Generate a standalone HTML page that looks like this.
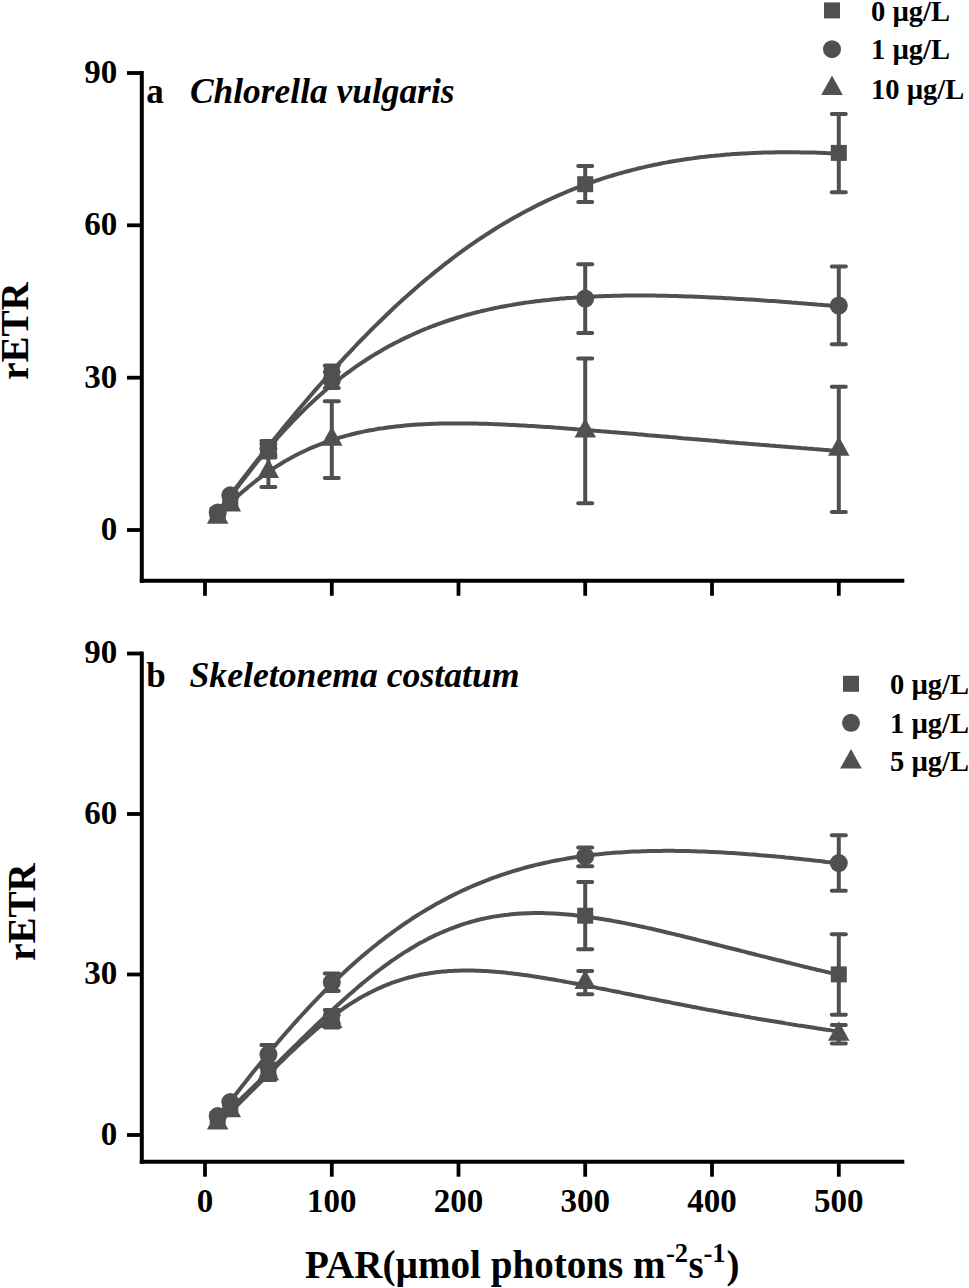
<!DOCTYPE html>
<html><head><meta charset="utf-8"><style>
html,body{margin:0;padding:0;background:#fff;}
body{width:969px;height:1288px;overflow:hidden;font-family:"Liberation Serif", serif;}
svg{display:block;}
</style></head><body>
<svg width="969" height="1288" viewBox="0 0 969 1288">
<rect width="969" height="1288" fill="#fff"/>
<g stroke="#000" fill="none" stroke-linecap="butt">
<line x1="141.8" y1="71.0" x2="141.8" y2="582.8" stroke-width="4.0"/>
<line x1="139.8" y1="580.8" x2="904.3" y2="580.8" stroke-width="4.0"/>
<line x1="127" y1="530.0" x2="141.8" y2="530.0" stroke-width="3.8"/>
<line x1="127" y1="377.7" x2="141.8" y2="377.7" stroke-width="3.8"/>
<line x1="127" y1="225.3" x2="141.8" y2="225.3" stroke-width="3.8"/>
<line x1="127" y1="73.0" x2="141.8" y2="73.0" stroke-width="3.8"/>
<line x1="205.0" y1="580.8" x2="205.0" y2="595.8" stroke-width="3.8"/>
<line x1="331.8" y1="580.8" x2="331.8" y2="595.8" stroke-width="3.8"/>
<line x1="458.5" y1="580.8" x2="458.5" y2="595.8" stroke-width="3.8"/>
<line x1="585.2" y1="580.8" x2="585.2" y2="595.8" stroke-width="3.8"/>
<line x1="712.0" y1="580.8" x2="712.0" y2="595.8" stroke-width="3.8"/>
<line x1="838.8" y1="580.8" x2="838.8" y2="595.8" stroke-width="3.8"/>
</g>
<text x="117.2" y="539.8" font-family="Liberation Serif" font-weight="bold" font-size="33" text-anchor="end">0</text>
<text x="117.2" y="387.5" font-family="Liberation Serif" font-weight="bold" font-size="33" text-anchor="end">30</text>
<text x="117.2" y="235.1" font-family="Liberation Serif" font-weight="bold" font-size="33" text-anchor="end">60</text>
<text x="117.2" y="82.8" font-family="Liberation Serif" font-weight="bold" font-size="33" text-anchor="end">90</text>
<g stroke="#505050" fill="none" stroke-width="4.0" stroke-linejoin="round">
<path d="M217.7,512.1 L220.8,507.9 L223.9,503.7 L227.0,499.5 L230.2,495.4 L233.3,491.3 L236.4,487.2 L239.5,483.1 L242.6,479.1 L245.8,475.0 L248.9,471.0 L252.0,467.0 L255.1,463.1 L258.2,459.1 L261.4,455.2 L264.5,451.2 L267.6,447.3 L270.7,443.5 L273.9,439.6 L277.0,435.7 L280.1,431.9 L283.2,428.1 L286.3,424.3 L289.5,420.5 L292.6,416.8 L295.7,413.1 L298.8,409.4 L301.9,405.7 L305.1,402.0 L308.2,398.4 L311.3,394.7 L314.4,391.1 L317.5,387.6 L320.7,384.0 L323.8,380.5 L326.9,377.0 L330.0,373.5 L333.2,370.0 L336.3,366.6 L339.4,363.2 L342.5,359.8 L345.6,356.4 L348.8,353.1 L351.9,349.8 L355.0,346.5 L358.1,343.2 L361.2,340.0 L364.4,336.8 L367.5,333.6 L370.6,330.5 L373.7,327.4 L376.8,324.3 L380.0,321.2 L383.1,318.2 L386.2,315.2 L389.3,312.2 L392.4,309.3 L395.6,306.3 L398.7,303.4 L401.8,300.6 L404.9,297.7 L408.1,294.9 L411.2,292.2 L414.3,289.4 L417.4,286.7 L420.5,284.0 L423.7,281.4 L426.8,278.8 L429.9,276.2 L433.0,273.6 L436.1,271.1 L439.3,268.6 L442.4,266.1 L445.5,263.7 L448.6,261.3 L451.7,258.9 L454.9,256.5 L458.0,254.2 L461.1,251.9 L464.2,249.7 L467.4,247.4 L470.5,245.2 L473.6,243.1 L476.7,240.9 L479.8,238.8 L483.0,236.8 L486.1,234.7 L489.2,232.7 L492.3,230.7 L495.4,228.7 L498.6,226.8 L501.7,224.9 L504.8,223.1 L507.9,221.2 L511.0,219.4 L514.2,217.6 L517.3,215.9 L520.4,214.2 L523.5,212.5 L526.7,210.8 L529.8,209.2 L532.9,207.6 L536.0,206.0 L539.1,204.4 L542.3,202.9 L545.4,201.4 L548.5,199.9 L551.6,198.5 L554.7,197.1 L557.9,195.7 L561.0,194.3 L564.1,193.0 L567.2,191.7 L570.3,190.4 L573.5,189.1 L576.6,187.9 L579.7,186.7 L582.8,185.5 L586.0,184.4 L589.1,183.2 L592.2,182.1 L595.3,181.0 L598.4,180.0 L601.6,178.9 L604.7,177.9 L607.8,176.9 L610.9,176.0 L614.0,175.0 L617.2,174.1 L620.3,173.2 L623.4,172.4 L626.5,171.5 L629.6,170.7 L632.8,169.9 L635.9,169.1 L639.0,168.3 L642.1,167.6 L645.2,166.9 L648.4,166.1 L651.5,165.5 L654.6,164.8 L657.7,164.2 L660.9,163.5 L664.0,162.9 L667.1,162.4 L670.2,161.8 L673.3,161.2 L676.5,160.7 L679.6,160.2 L682.7,159.7 L685.8,159.2 L688.9,158.8 L692.1,158.4 L695.2,157.9 L698.3,157.5 L701.4,157.1 L704.5,156.8 L707.7,156.4 L710.8,156.1 L713.9,155.8 L717.0,155.4 L720.2,155.2 L723.3,154.9 L726.4,154.6 L729.5,154.4 L732.6,154.1 L735.8,153.9 L738.9,153.7 L742.0,153.5 L745.1,153.4 L748.2,153.2 L751.4,153.1 L754.5,152.9 L757.6,152.8 L760.7,152.7 L763.8,152.6 L767.0,152.5 L770.1,152.4 L773.2,152.4 L776.3,152.3 L779.5,152.3 L782.6,152.3 L785.7,152.3 L788.8,152.3 L791.9,152.3 L795.1,152.3 L798.2,152.3 L801.3,152.4 L804.4,152.4 L807.5,152.5 L810.7,152.6 L813.8,152.6 L816.9,152.7 L820.0,152.8 L823.1,152.9 L826.3,153.1 L829.4,153.2 L832.5,153.3 L835.6,153.5 L838.8,153.6"/>
<path d="M217.7,514.0 L220.8,509.8 L223.9,505.5 L227.0,501.3 L230.2,497.1 L233.3,492.9 L236.4,488.7 L239.5,484.6 L242.6,480.5 L245.8,476.4 L248.9,472.4 L252.0,468.4 L255.1,464.5 L258.2,460.6 L261.4,456.8 L264.5,453.0 L267.6,449.3 L270.7,445.6 L273.9,442.0 L277.0,438.5 L280.1,435.0 L283.2,431.5 L286.3,428.1 L289.5,424.8 L292.6,421.5 L295.7,418.3 L298.8,415.1 L301.9,412.0 L305.1,408.9 L308.2,405.9 L311.3,403.0 L314.4,400.1 L317.5,397.3 L320.7,394.5 L323.8,391.8 L326.9,389.1 L330.0,386.5 L333.2,383.9 L336.3,381.4 L339.4,378.9 L342.5,376.5 L345.6,374.2 L348.8,371.9 L351.9,369.6 L355.0,367.4 L358.1,365.2 L361.2,363.1 L364.4,361.0 L367.5,359.0 L370.6,357.0 L373.7,355.1 L376.8,353.2 L380.0,351.4 L383.1,349.6 L386.2,347.8 L389.3,346.1 L392.4,344.4 L395.6,342.8 L398.7,341.2 L401.8,339.6 L404.9,338.1 L408.1,336.6 L411.2,335.2 L414.3,333.8 L417.4,332.4 L420.5,331.0 L423.7,329.7 L426.8,328.5 L429.9,327.2 L433.0,326.0 L436.1,324.9 L439.3,323.7 L442.4,322.6 L445.5,321.5 L448.6,320.5 L451.7,319.5 L454.9,318.5 L458.0,317.5 L461.1,316.6 L464.2,315.7 L467.4,314.8 L470.5,314.0 L473.6,313.1 L476.7,312.3 L479.8,311.6 L483.0,310.8 L486.1,310.1 L489.2,309.4 L492.3,308.7 L495.4,308.0 L498.6,307.4 L501.7,306.8 L504.8,306.2 L507.9,305.6 L511.0,305.1 L514.2,304.5 L517.3,304.0 L520.4,303.5 L523.5,303.0 L526.7,302.6 L529.8,302.1 L532.9,301.7 L536.0,301.3 L539.1,300.9 L542.3,300.6 L545.4,300.2 L548.5,299.9 L551.6,299.5 L554.7,299.2 L557.9,298.9 L561.0,298.6 L564.1,298.4 L567.2,298.1 L570.3,297.9 L573.5,297.7 L576.6,297.4 L579.7,297.2 L582.8,297.1 L586.0,296.9 L589.1,296.7 L592.2,296.6 L595.3,296.4 L598.4,296.3 L601.6,296.2 L604.7,296.1 L607.8,296.0 L610.9,295.9 L614.0,295.8 L617.2,295.7 L620.3,295.7 L623.4,295.6 L626.5,295.6 L629.6,295.6 L632.8,295.6 L635.9,295.5 L639.0,295.5 L642.1,295.5 L645.2,295.6 L648.4,295.6 L651.5,295.6 L654.6,295.6 L657.7,295.7 L660.9,295.7 L664.0,295.8 L667.1,295.8 L670.2,295.9 L673.3,296.0 L676.5,296.1 L679.6,296.2 L682.7,296.3 L685.8,296.4 L688.9,296.5 L692.1,296.6 L695.2,296.7 L698.3,296.8 L701.4,296.9 L704.5,297.1 L707.7,297.2 L710.8,297.4 L713.9,297.5 L717.0,297.7 L720.2,297.8 L723.3,298.0 L726.4,298.2 L729.5,298.3 L732.6,298.5 L735.8,298.7 L738.9,298.9 L742.0,299.0 L745.1,299.2 L748.2,299.4 L751.4,299.6 L754.5,299.8 L757.6,300.0 L760.7,300.2 L763.8,300.4 L767.0,300.7 L770.1,300.9 L773.2,301.1 L776.3,301.3 L779.5,301.5 L782.6,301.8 L785.7,302.0 L788.8,302.2 L791.9,302.5 L795.1,302.7 L798.2,303.0 L801.3,303.2 L804.4,303.4 L807.5,303.7 L810.7,303.9 L813.8,304.2 L816.9,304.5 L820.0,304.7 L823.1,305.0 L826.3,305.2 L829.4,305.5 L832.5,305.7 L835.6,306.0 L838.8,306.3"/>
<path d="M217.7,515.7 L220.8,512.5 L223.9,509.3 L227.0,506.2 L230.2,503.2 L233.3,500.2 L236.4,497.3 L239.5,494.5 L242.6,491.8 L245.8,489.1 L248.9,486.5 L252.0,484.0 L255.1,481.5 L258.2,479.1 L261.4,476.8 L264.5,474.5 L267.6,472.3 L270.7,470.2 L273.9,468.1 L277.0,466.1 L280.1,464.2 L283.2,462.3 L286.3,460.4 L289.5,458.7 L292.6,457.0 L295.7,455.3 L298.8,453.7 L301.9,452.2 L305.1,450.7 L308.2,449.3 L311.3,447.9 L314.4,446.6 L317.5,445.3 L320.7,444.1 L323.8,442.9 L326.9,441.8 L330.0,440.7 L333.2,439.7 L336.3,438.7 L339.4,437.7 L342.5,436.8 L345.6,435.9 L348.8,435.1 L351.9,434.3 L355.0,433.5 L358.1,432.8 L361.2,432.1 L364.4,431.4 L367.5,430.8 L370.6,430.2 L373.7,429.7 L376.8,429.1 L380.0,428.6 L383.1,428.2 L386.2,427.7 L389.3,427.3 L392.4,426.9 L395.6,426.5 L398.7,426.2 L401.8,425.9 L404.9,425.6 L408.1,425.3 L411.2,425.0 L414.3,424.8 L417.4,424.6 L420.5,424.4 L423.7,424.2 L426.8,424.1 L429.9,423.9 L433.0,423.8 L436.1,423.7 L439.3,423.6 L442.4,423.5 L445.5,423.5 L448.6,423.4 L451.7,423.4 L454.9,423.4 L458.0,423.4 L461.1,423.4 L464.2,423.4 L467.4,423.4 L470.5,423.5 L473.6,423.5 L476.7,423.6 L479.8,423.7 L483.0,423.8 L486.1,423.8 L489.2,423.9 L492.3,424.1 L495.4,424.2 L498.6,424.3 L501.7,424.4 L504.8,424.6 L507.9,424.7 L511.0,424.9 L514.2,425.0 L517.3,425.2 L520.4,425.4 L523.5,425.5 L526.7,425.7 L529.8,425.9 L532.9,426.1 L536.0,426.3 L539.1,426.5 L542.3,426.7 L545.4,426.9 L548.5,427.1 L551.6,427.3 L554.7,427.6 L557.9,427.8 L561.0,428.0 L564.1,428.2 L567.2,428.5 L570.3,428.7 L573.5,428.9 L576.6,429.2 L579.7,429.4 L582.8,429.7 L586.0,429.9 L589.1,430.2 L592.2,430.4 L595.3,430.7 L598.4,430.9 L601.6,431.2 L604.7,431.4 L607.8,431.7 L610.9,432.0 L614.0,432.2 L617.2,432.5 L620.3,432.8 L623.4,433.0 L626.5,433.3 L629.6,433.6 L632.8,433.8 L635.9,434.1 L639.0,434.4 L642.1,434.6 L645.2,434.9 L648.4,435.2 L651.5,435.4 L654.6,435.7 L657.7,436.0 L660.9,436.3 L664.0,436.5 L667.1,436.8 L670.2,437.1 L673.3,437.3 L676.5,437.6 L679.6,437.9 L682.7,438.2 L685.8,438.4 L688.9,438.7 L692.1,439.0 L695.2,439.2 L698.3,439.5 L701.4,439.8 L704.5,440.0 L707.7,440.3 L710.8,440.6 L713.9,440.8 L717.0,441.1 L720.2,441.4 L723.3,441.6 L726.4,441.9 L729.5,442.2 L732.6,442.4 L735.8,442.7 L738.9,443.0 L742.0,443.2 L745.1,443.5 L748.2,443.8 L751.4,444.0 L754.5,444.3 L757.6,444.5 L760.7,444.8 L763.8,445.0 L767.0,445.3 L770.1,445.6 L773.2,445.8 L776.3,446.1 L779.5,446.3 L782.6,446.6 L785.7,446.8 L788.8,447.1 L791.9,447.3 L795.1,447.6 L798.2,447.8 L801.3,448.1 L804.4,448.3 L807.5,448.6 L810.7,448.8 L813.8,449.1 L816.9,449.3 L820.0,449.5 L823.1,449.8 L826.3,450.0 L829.4,450.3 L832.5,450.5 L835.6,450.7 L838.8,451.0"/>
</g>
<g stroke="#505050" stroke-width="4.0" stroke-linecap="round">
<line x1="268.4" y1="444.0" x2="268.4" y2="454.0" stroke-linecap="butt"/><line x1="261.4" y1="444.0" x2="275.4" y2="444.0"/><line x1="261.4" y1="454.0" x2="275.4" y2="454.0"/>
<line x1="268.4" y1="441.0" x2="268.4" y2="456.0" stroke-linecap="butt"/><line x1="261.4" y1="441.0" x2="275.4" y2="441.0"/><line x1="261.4" y1="456.0" x2="275.4" y2="456.0"/>
<line x1="268.4" y1="457.5" x2="268.4" y2="487.0" stroke-linecap="butt"/><line x1="261.4" y1="457.5" x2="275.4" y2="457.5"/><line x1="261.4" y1="487.0" x2="275.4" y2="487.0"/>
<line x1="331.8" y1="365.6" x2="331.8" y2="380.0" stroke-linecap="butt"/><line x1="324.8" y1="365.6" x2="338.8" y2="365.6"/><line x1="324.8" y1="380.0" x2="338.8" y2="380.0"/>
<line x1="331.8" y1="372.0" x2="331.8" y2="388.0" stroke-linecap="butt"/><line x1="324.8" y1="372.0" x2="338.8" y2="372.0"/><line x1="324.8" y1="388.0" x2="338.8" y2="388.0"/>
<line x1="331.8" y1="401.2" x2="331.8" y2="478.0" stroke-linecap="butt"/><line x1="324.8" y1="401.2" x2="338.8" y2="401.2"/><line x1="324.8" y1="478.0" x2="338.8" y2="478.0"/>
<line x1="585.2" y1="166.0" x2="585.2" y2="202.1" stroke-linecap="butt"/><line x1="578.2" y1="166.0" x2="592.2" y2="166.0"/><line x1="578.2" y1="202.1" x2="592.2" y2="202.1"/>
<line x1="585.2" y1="264.3" x2="585.2" y2="333.1" stroke-linecap="butt"/><line x1="578.2" y1="264.3" x2="592.2" y2="264.3"/><line x1="578.2" y1="333.1" x2="592.2" y2="333.1"/>
<line x1="585.2" y1="358.4" x2="585.2" y2="503.3" stroke-linecap="butt"/><line x1="578.2" y1="358.4" x2="592.2" y2="358.4"/><line x1="578.2" y1="503.3" x2="592.2" y2="503.3"/>
<line x1="838.8" y1="114.0" x2="838.8" y2="192.3" stroke-linecap="butt"/><line x1="831.8" y1="114.0" x2="845.8" y2="114.0"/><line x1="831.8" y1="192.3" x2="845.8" y2="192.3"/>
<line x1="838.8" y1="266.6" x2="838.8" y2="344.2" stroke-linecap="butt"/><line x1="831.8" y1="266.6" x2="845.8" y2="266.6"/><line x1="831.8" y1="344.2" x2="845.8" y2="344.2"/>
<line x1="838.8" y1="386.8" x2="838.8" y2="512.1" stroke-linecap="butt"/><line x1="831.8" y1="386.8" x2="845.8" y2="386.8"/><line x1="831.8" y1="512.1" x2="845.8" y2="512.1"/>
</g>
<g fill="#505050">
<rect x="209.7" y="507.0" width="16.0" height="16.0"/>
<circle cx="217.7" cy="512.5" r="9"/>
<polygon points="217.7,504.3 228.4,523.8 206.9,523.8"/>
<rect x="222.3" y="492.0" width="16.0" height="16.0"/>
<circle cx="230.3" cy="495.3" r="9"/>
<polygon points="230.3,491.9 241.1,511.4 219.6,511.4"/>
<rect x="260.4" y="441.0" width="16.0" height="16.0"/>
<circle cx="268.4" cy="448.5" r="9"/>
<polygon points="268.4,458.5 279.1,478.0 257.6,478.0"/>
<rect x="323.8" y="365.0" width="16.0" height="16.0"/>
<circle cx="331.8" cy="380.3" r="9"/>
<polygon points="331.8,426.3 342.5,445.8 321.0,445.8"/>
<rect x="577.2" y="176.2" width="16.0" height="16.0"/>
<circle cx="585.2" cy="298.6" r="9"/>
<polygon points="585.2,417.9 596.0,437.4 574.5,437.4"/>
<rect x="830.8" y="144.9" width="16.0" height="16.0"/>
<circle cx="838.8" cy="305.6" r="9"/>
<polygon points="838.8,436.3 849.5,455.8 828.0,455.8"/>
</g>
<g stroke="#000" fill="none" stroke-linecap="butt">
<line x1="141.8" y1="651.5" x2="141.8" y2="1163.7" stroke-width="4.0"/>
<line x1="139.8" y1="1161.7" x2="904.3" y2="1161.7" stroke-width="4.0"/>
<line x1="127" y1="1135.0" x2="141.8" y2="1135.0" stroke-width="3.8"/>
<line x1="127" y1="974.5" x2="141.8" y2="974.5" stroke-width="3.8"/>
<line x1="127" y1="814.0" x2="141.8" y2="814.0" stroke-width="3.8"/>
<line x1="127" y1="653.5" x2="141.8" y2="653.5" stroke-width="3.8"/>
<line x1="205.0" y1="1161.7" x2="205.0" y2="1176.7" stroke-width="3.8"/>
<line x1="331.8" y1="1161.7" x2="331.8" y2="1176.7" stroke-width="3.8"/>
<line x1="458.5" y1="1161.7" x2="458.5" y2="1176.7" stroke-width="3.8"/>
<line x1="585.2" y1="1161.7" x2="585.2" y2="1176.7" stroke-width="3.8"/>
<line x1="712.0" y1="1161.7" x2="712.0" y2="1176.7" stroke-width="3.8"/>
<line x1="838.8" y1="1161.7" x2="838.8" y2="1176.7" stroke-width="3.8"/>
</g>
<text x="117.2" y="1144.8" font-family="Liberation Serif" font-weight="bold" font-size="33" text-anchor="end">0</text>
<text x="117.2" y="984.3" font-family="Liberation Serif" font-weight="bold" font-size="33" text-anchor="end">30</text>
<text x="117.2" y="823.8" font-family="Liberation Serif" font-weight="bold" font-size="33" text-anchor="end">60</text>
<text x="117.2" y="663.3" font-family="Liberation Serif" font-weight="bold" font-size="33" text-anchor="end">90</text>
<g stroke="#505050" fill="none" stroke-width="4.0" stroke-linejoin="round">
<path d="M217.7,1117.9 L220.8,1113.8 L223.9,1109.7 L227.0,1105.6 L230.2,1101.5 L233.3,1097.4 L236.4,1093.4 L239.5,1089.4 L242.6,1085.4 L245.8,1081.5 L248.9,1077.5 L252.0,1073.6 L255.1,1069.7 L258.2,1065.9 L261.4,1062.0 L264.5,1058.2 L267.6,1054.4 L270.7,1050.7 L273.9,1047.0 L277.0,1043.3 L280.1,1039.6 L283.2,1036.0 L286.3,1032.4 L289.5,1028.9 L292.6,1025.3 L295.7,1021.8 L298.8,1018.4 L301.9,1015.0 L305.1,1011.6 L308.2,1008.2 L311.3,1004.9 L314.4,1001.6 L317.5,998.4 L320.7,995.2 L323.8,992.0 L326.9,988.9 L330.0,985.8 L333.2,982.8 L336.3,979.8 L339.4,976.8 L342.5,973.9 L345.6,971.0 L348.8,968.1 L351.9,965.3 L355.0,962.5 L358.1,959.8 L361.2,957.1 L364.4,954.4 L367.5,951.8 L370.6,949.2 L373.7,946.7 L376.8,944.2 L380.0,941.7 L383.1,939.3 L386.2,936.9 L389.3,934.6 L392.4,932.3 L395.6,930.0 L398.7,927.8 L401.8,925.6 L404.9,923.5 L408.1,921.4 L411.2,919.3 L414.3,917.3 L417.4,915.3 L420.5,913.4 L423.7,911.4 L426.8,909.6 L429.9,907.7 L433.0,905.9 L436.1,904.1 L439.3,902.4 L442.4,900.7 L445.5,899.1 L448.6,897.4 L451.7,895.9 L454.9,894.3 L458.0,892.8 L461.1,891.3 L464.2,889.8 L467.4,888.4 L470.5,887.0 L473.6,885.7 L476.7,884.4 L479.8,883.1 L483.0,881.8 L486.1,880.6 L489.2,879.4 L492.3,878.2 L495.4,877.1 L498.6,876.0 L501.7,874.9 L504.8,873.9 L507.9,872.9 L511.0,871.9 L514.2,870.9 L517.3,870.0 L520.4,869.1 L523.5,868.2 L526.7,867.3 L529.8,866.5 L532.9,865.7 L536.0,864.9 L539.1,864.2 L542.3,863.5 L545.4,862.8 L548.5,862.1 L551.6,861.4 L554.7,860.8 L557.9,860.2 L561.0,859.6 L564.1,859.1 L567.2,858.5 L570.3,858.0 L573.5,857.5 L576.6,857.0 L579.7,856.6 L582.8,856.1 L586.0,855.7 L589.1,855.3 L592.2,854.9 L595.3,854.6 L598.4,854.3 L601.6,853.9 L604.7,853.6 L607.8,853.3 L610.9,853.1 L614.0,852.8 L617.2,852.6 L620.3,852.4 L623.4,852.2 L626.5,852.0 L629.6,851.8 L632.8,851.6 L635.9,851.5 L639.0,851.4 L642.1,851.3 L645.2,851.2 L648.4,851.1 L651.5,851.0 L654.6,850.9 L657.7,850.9 L660.9,850.9 L664.0,850.8 L667.1,850.8 L670.2,850.8 L673.3,850.8 L676.5,850.9 L679.6,850.9 L682.7,851.0 L685.8,851.0 L688.9,851.1 L692.1,851.2 L695.2,851.3 L698.3,851.4 L701.4,851.5 L704.5,851.6 L707.7,851.7 L710.8,851.9 L713.9,852.0 L717.0,852.2 L720.2,852.3 L723.3,852.5 L726.4,852.7 L729.5,852.9 L732.6,853.1 L735.8,853.3 L738.9,853.5 L742.0,853.7 L745.1,853.9 L748.2,854.2 L751.4,854.4 L754.5,854.6 L757.6,854.9 L760.7,855.2 L763.8,855.4 L767.0,855.7 L770.1,856.0 L773.2,856.3 L776.3,856.6 L779.5,856.8 L782.6,857.1 L785.7,857.5 L788.8,857.8 L791.9,858.1 L795.1,858.4 L798.2,858.7 L801.3,859.1 L804.4,859.4 L807.5,859.7 L810.7,860.1 L813.8,860.4 L816.9,860.8 L820.0,861.1 L823.1,861.5 L826.3,861.9 L829.4,862.2 L832.5,862.6 L835.6,863.0 L838.8,863.3"/>
<path d="M217.7,1121.5 L220.8,1118.5 L223.9,1115.5 L227.0,1112.4 L230.2,1109.4 L233.3,1106.4 L236.4,1103.4 L239.5,1100.3 L242.6,1097.3 L245.8,1094.3 L248.9,1091.2 L252.0,1088.2 L255.1,1085.1 L258.2,1082.1 L261.4,1079.0 L264.5,1076.0 L267.6,1072.9 L270.7,1069.8 L273.9,1066.7 L277.0,1063.6 L280.1,1060.6 L283.2,1057.5 L286.3,1054.4 L289.5,1051.3 L292.6,1048.2 L295.7,1045.2 L298.8,1042.1 L301.9,1039.0 L305.1,1036.0 L308.2,1032.9 L311.3,1029.9 L314.4,1026.9 L317.5,1023.9 L320.7,1020.9 L323.8,1018.0 L326.9,1015.0 L330.0,1012.1 L333.2,1009.2 L336.3,1006.3 L339.4,1003.5 L342.5,1000.7 L345.6,997.9 L348.8,995.1 L351.9,992.4 L355.0,989.7 L358.1,987.0 L361.2,984.4 L364.4,981.8 L367.5,979.3 L370.6,976.8 L373.7,974.3 L376.8,971.9 L380.0,969.5 L383.1,967.2 L386.2,964.9 L389.3,962.6 L392.4,960.4 L395.6,958.3 L398.7,956.2 L401.8,954.1 L404.9,952.1 L408.1,950.2 L411.2,948.2 L414.3,946.4 L417.4,944.6 L420.5,942.8 L423.7,941.2 L426.8,939.5 L429.9,937.9 L433.0,936.4 L436.1,934.9 L439.3,933.5 L442.4,932.1 L445.5,930.8 L448.6,929.5 L451.7,928.3 L454.9,927.1 L458.0,926.0 L461.1,924.9 L464.2,923.9 L467.4,922.9 L470.5,922.0 L473.6,921.1 L476.7,920.3 L479.8,919.5 L483.0,918.8 L486.1,918.1 L489.2,917.5 L492.3,916.9 L495.4,916.4 L498.6,915.9 L501.7,915.4 L504.8,915.0 L507.9,914.7 L511.0,914.3 L514.2,914.0 L517.3,913.8 L520.4,913.6 L523.5,913.4 L526.7,913.3 L529.8,913.2 L532.9,913.1 L536.0,913.1 L539.1,913.1 L542.3,913.1 L545.4,913.2 L548.5,913.3 L551.6,913.4 L554.7,913.6 L557.9,913.8 L561.0,914.0 L564.1,914.2 L567.2,914.5 L570.3,914.8 L573.5,915.1 L576.6,915.5 L579.7,915.8 L582.8,916.2 L586.0,916.6 L589.1,917.0 L592.2,917.5 L595.3,918.0 L598.4,918.4 L601.6,918.9 L604.7,919.5 L607.8,920.0 L610.9,920.5 L614.0,921.1 L617.2,921.7 L620.3,922.3 L623.4,922.9 L626.5,923.5 L629.6,924.1 L632.8,924.8 L635.9,925.4 L639.0,926.1 L642.1,926.8 L645.2,927.4 L648.4,928.1 L651.5,928.8 L654.6,929.5 L657.7,930.3 L660.9,931.0 L664.0,931.7 L667.1,932.5 L670.2,933.2 L673.3,933.9 L676.5,934.7 L679.6,935.4 L682.7,936.2 L685.8,937.0 L688.9,937.7 L692.1,938.5 L695.2,939.3 L698.3,940.1 L701.4,940.9 L704.5,941.6 L707.7,942.4 L710.8,943.2 L713.9,944.0 L717.0,944.8 L720.2,945.6 L723.3,946.4 L726.4,947.2 L729.5,948.0 L732.6,948.7 L735.8,949.5 L738.9,950.3 L742.0,951.1 L745.1,951.9 L748.2,952.7 L751.4,953.5 L754.5,954.3 L757.6,955.1 L760.7,955.9 L763.8,956.6 L767.0,957.4 L770.1,958.2 L773.2,959.0 L776.3,959.8 L779.5,960.5 L782.6,961.3 L785.7,962.1 L788.8,962.8 L791.9,963.6 L795.1,964.4 L798.2,965.1 L801.3,965.9 L804.4,966.7 L807.5,967.4 L810.7,968.2 L813.8,968.9 L816.9,969.7 L820.0,970.4 L823.1,971.1 L826.3,971.9 L829.4,972.6 L832.5,973.3 L835.6,974.1 L838.8,974.8"/>
<path d="M217.7,1123.8 L220.8,1120.9 L223.9,1118.0 L227.0,1115.0 L230.2,1112.1 L233.3,1109.1 L236.4,1106.0 L239.5,1103.0 L242.6,1099.9 L245.8,1096.8 L248.9,1093.7 L252.0,1090.6 L255.1,1087.5 L258.2,1084.4 L261.4,1081.3 L264.5,1078.2 L267.6,1075.0 L270.7,1071.9 L273.9,1068.8 L277.0,1065.8 L280.1,1062.7 L283.2,1059.7 L286.3,1056.6 L289.5,1053.6 L292.6,1050.7 L295.7,1047.7 L298.8,1044.8 L301.9,1042.0 L305.1,1039.2 L308.2,1036.4 L311.3,1033.6 L314.4,1031.0 L317.5,1028.3 L320.7,1025.7 L323.8,1023.2 L326.9,1020.7 L330.0,1018.3 L333.2,1015.9 L336.3,1013.6 L339.4,1011.3 L342.5,1009.1 L345.6,1007.0 L348.8,1004.9 L351.9,1002.9 L355.0,1001.0 L358.1,999.1 L361.2,997.3 L364.4,995.6 L367.5,993.9 L370.6,992.3 L373.7,990.7 L376.8,989.2 L380.0,987.8 L383.1,986.4 L386.2,985.2 L389.3,983.9 L392.4,982.7 L395.6,981.6 L398.7,980.6 L401.8,979.6 L404.9,978.7 L408.1,977.8 L411.2,977.0 L414.3,976.2 L417.4,975.5 L420.5,974.8 L423.7,974.2 L426.8,973.7 L429.9,973.2 L433.0,972.7 L436.1,972.3 L439.3,971.9 L442.4,971.6 L445.5,971.4 L448.6,971.1 L451.7,970.9 L454.9,970.8 L458.0,970.7 L461.1,970.6 L464.2,970.5 L467.4,970.5 L470.5,970.5 L473.6,970.6 L476.7,970.7 L479.8,970.8 L483.0,970.9 L486.1,971.1 L489.2,971.3 L492.3,971.5 L495.4,971.8 L498.6,972.0 L501.7,972.3 L504.8,972.6 L507.9,973.0 L511.0,973.3 L514.2,973.7 L517.3,974.1 L520.4,974.5 L523.5,974.9 L526.7,975.3 L529.8,975.8 L532.9,976.3 L536.0,976.7 L539.1,977.2 L542.3,977.7 L545.4,978.2 L548.5,978.8 L551.6,979.3 L554.7,979.8 L557.9,980.4 L561.0,980.9 L564.1,981.5 L567.2,982.1 L570.3,982.6 L573.5,983.2 L576.6,983.8 L579.7,984.4 L582.8,985.0 L586.0,985.6 L589.1,986.2 L592.2,986.8 L595.3,987.4 L598.4,988.1 L601.6,988.7 L604.7,989.3 L607.8,989.9 L610.9,990.6 L614.0,991.2 L617.2,991.8 L620.3,992.4 L623.4,993.1 L626.5,993.7 L629.6,994.3 L632.8,995.0 L635.9,995.6 L639.0,996.2 L642.1,996.8 L645.2,997.5 L648.4,998.1 L651.5,998.7 L654.6,999.3 L657.7,1000.0 L660.9,1000.6 L664.0,1001.2 L667.1,1001.8 L670.2,1002.4 L673.3,1003.1 L676.5,1003.7 L679.6,1004.3 L682.7,1004.9 L685.8,1005.5 L688.9,1006.1 L692.1,1006.7 L695.2,1007.3 L698.3,1007.9 L701.4,1008.5 L704.5,1009.1 L707.7,1009.7 L710.8,1010.2 L713.9,1010.8 L717.0,1011.4 L720.2,1012.0 L723.3,1012.6 L726.4,1013.1 L729.5,1013.7 L732.6,1014.3 L735.8,1014.8 L738.9,1015.4 L742.0,1015.9 L745.1,1016.5 L748.2,1017.0 L751.4,1017.6 L754.5,1018.1 L757.6,1018.7 L760.7,1019.2 L763.8,1019.7 L767.0,1020.2 L770.1,1020.8 L773.2,1021.3 L776.3,1021.8 L779.5,1022.3 L782.6,1022.8 L785.7,1023.4 L788.8,1023.9 L791.9,1024.4 L795.1,1024.9 L798.2,1025.4 L801.3,1025.8 L804.4,1026.3 L807.5,1026.8 L810.7,1027.3 L813.8,1027.8 L816.9,1028.3 L820.0,1028.7 L823.1,1029.2 L826.3,1029.7 L829.4,1030.1 L832.5,1030.6 L835.6,1031.1 L838.8,1031.5"/>
</g>
<g stroke="#505050" stroke-width="4.0" stroke-linecap="round">
<line x1="268.4" y1="1066.0" x2="268.4" y2="1076.0" stroke-linecap="butt"/><line x1="261.4" y1="1066.0" x2="275.4" y2="1066.0"/><line x1="261.4" y1="1076.0" x2="275.4" y2="1076.0"/>
<line x1="268.4" y1="1045.0" x2="268.4" y2="1063.6" stroke-linecap="butt"/><line x1="261.4" y1="1045.0" x2="275.4" y2="1045.0"/><line x1="261.4" y1="1063.6" x2="275.4" y2="1063.6"/>
<line x1="268.4" y1="1068.0" x2="268.4" y2="1080.0" stroke-linecap="butt"/><line x1="261.4" y1="1068.0" x2="275.4" y2="1068.0"/><line x1="261.4" y1="1080.0" x2="275.4" y2="1080.0"/>
<line x1="331.8" y1="1010.0" x2="331.8" y2="1023.0" stroke-linecap="butt"/><line x1="324.8" y1="1010.0" x2="338.8" y2="1010.0"/><line x1="324.8" y1="1023.0" x2="338.8" y2="1023.0"/>
<line x1="331.8" y1="973.6" x2="331.8" y2="991.0" stroke-linecap="butt"/><line x1="324.8" y1="973.6" x2="338.8" y2="973.6"/><line x1="324.8" y1="991.0" x2="338.8" y2="991.0"/>
<line x1="331.8" y1="1015.0" x2="331.8" y2="1027.5" stroke-linecap="butt"/><line x1="324.8" y1="1015.0" x2="338.8" y2="1015.0"/><line x1="324.8" y1="1027.5" x2="338.8" y2="1027.5"/>
<line x1="585.2" y1="882.1" x2="585.2" y2="949.3" stroke-linecap="butt"/><line x1="578.2" y1="882.1" x2="592.2" y2="882.1"/><line x1="578.2" y1="949.3" x2="592.2" y2="949.3"/>
<line x1="585.2" y1="847.4" x2="585.2" y2="866.3" stroke-linecap="butt"/><line x1="578.2" y1="847.4" x2="592.2" y2="847.4"/><line x1="578.2" y1="866.3" x2="592.2" y2="866.3"/>
<line x1="585.2" y1="971.1" x2="585.2" y2="994.2" stroke-linecap="butt"/><line x1="578.2" y1="971.1" x2="592.2" y2="971.1"/><line x1="578.2" y1="994.2" x2="592.2" y2="994.2"/>
<line x1="838.8" y1="934.2" x2="838.8" y2="1014.7" stroke-linecap="butt"/><line x1="831.8" y1="934.2" x2="845.8" y2="934.2"/><line x1="831.8" y1="1014.7" x2="845.8" y2="1014.7"/>
<line x1="838.8" y1="835.3" x2="838.8" y2="890.8" stroke-linecap="butt"/><line x1="831.8" y1="835.3" x2="845.8" y2="835.3"/><line x1="831.8" y1="890.8" x2="845.8" y2="890.8"/>
<line x1="838.8" y1="1025.0" x2="838.8" y2="1043.6" stroke-linecap="butt"/><line x1="831.8" y1="1025.0" x2="845.8" y2="1025.0"/><line x1="831.8" y1="1043.6" x2="845.8" y2="1043.6"/>
</g>
<g fill="#505050">
<rect x="209.7" y="1111.0" width="16.0" height="16.0"/>
<circle cx="217.7" cy="1116.0" r="9"/>
<polygon points="217.7,1110.0 228.4,1129.5 206.9,1129.5"/>
<rect x="222.3" y="1098.0" width="16.0" height="16.0"/>
<circle cx="230.3" cy="1102.0" r="9"/>
<polygon points="230.3,1097.8 241.1,1117.3 219.6,1117.3"/>
<rect x="260.4" y="1063.0" width="16.0" height="16.0"/>
<circle cx="268.4" cy="1054.3" r="9"/>
<polygon points="268.4,1060.7 279.1,1080.2 257.6,1080.2"/>
<rect x="323.8" y="1008.5" width="16.0" height="16.0"/>
<circle cx="331.8" cy="982.3" r="9"/>
<polygon points="331.8,1008.5 342.5,1028.0 321.0,1028.0"/>
<rect x="577.2" y="907.7" width="16.0" height="16.0"/>
<circle cx="585.2" cy="856.4" r="9"/>
<polygon points="585.2,969.6 596.0,989.1 574.5,989.1"/>
<rect x="830.8" y="966.4" width="16.0" height="16.0"/>
<circle cx="838.8" cy="863.1" r="9"/>
<polygon points="838.8,1021.3 849.5,1040.8 828.0,1040.8"/>
</g>
<text x="205.0" y="1212.2" font-family="Liberation Serif" font-weight="bold" font-size="33" text-anchor="middle">0</text>
<text x="331.8" y="1212.2" font-family="Liberation Serif" font-weight="bold" font-size="33" text-anchor="middle">100</text>
<text x="458.5" y="1212.2" font-family="Liberation Serif" font-weight="bold" font-size="33" text-anchor="middle">200</text>
<text x="585.2" y="1212.2" font-family="Liberation Serif" font-weight="bold" font-size="33" text-anchor="middle">300</text>
<text x="712.0" y="1212.2" font-family="Liberation Serif" font-weight="bold" font-size="33" text-anchor="middle">400</text>
<text x="838.8" y="1212.2" font-family="Liberation Serif" font-weight="bold" font-size="33" text-anchor="middle">500</text>
<text x="146.3" y="103" font-family="Liberation Serif" font-weight="bold" font-size="35">a</text>
<text x="190" y="103" font-family="Liberation Serif" font-weight="bold" font-style="italic" font-size="35.4">Chlorella vulgaris</text>
<text x="146.3" y="686.5" font-family="Liberation Serif" font-weight="bold" font-size="35">b</text>
<text x="189.5" y="686.5" font-family="Liberation Serif" font-weight="bold" font-style="italic" font-size="35.7">Skeletonema costatum</text>
<text transform="translate(28,331) rotate(-90)" font-family="Liberation Serif" font-weight="bold" font-size="39" text-anchor="middle">rETR</text>
<text transform="translate(34.7,912) rotate(-90)" font-family="Liberation Serif" font-weight="bold" font-size="39" text-anchor="middle">rETR</text>
<text x="305.0" y="1277.5" font-family="Liberation Serif" font-weight="bold" font-size="39" textLength="360.5" lengthAdjust="spacingAndGlyphs">PAR(µmol photons m</text>
<text x="666.0" y="1261.5" font-family="Liberation Serif" font-weight="bold" font-size="26.5">-2</text>
<text x="688.5" y="1277.5" font-family="Liberation Serif" font-weight="bold" font-size="39">s</text>
<text x="703.5" y="1261.5" font-family="Liberation Serif" font-weight="bold" font-size="26.5">-1</text>
<text x="726.5" y="1277.5" font-family="Liberation Serif" font-weight="bold" font-size="39">)</text>
<g fill="#505050"><rect x="824.0" y="2.4" width="16.0" height="16.0"/></g><text x="871" y="20.8" font-family="Liberation Serif" font-weight="bold" font-size="28.5">0 µg/L</text><g fill="#505050"><circle cx="832.0" cy="49.2" r="9"/></g><text x="871" y="59.4" font-family="Liberation Serif" font-weight="bold" font-size="28.5">1 µg/L</text><g fill="#505050"><polygon points="832.0,75.5 842.8,95.0 821.2,95.0"/></g><text x="871" y="98.8" font-family="Liberation Serif" font-weight="bold" font-size="28.5">10 µg/L</text>
<g fill="#505050"><rect x="843.0" y="675.8" width="16.0" height="16.0"/></g><text x="890" y="694.3" font-family="Liberation Serif" font-weight="bold" font-size="28.5">0 µg/L</text><g fill="#505050"><circle cx="851.0" cy="722.8" r="9"/></g><text x="890" y="732.7" font-family="Liberation Serif" font-weight="bold" font-size="28.5">1 µg/L</text><g fill="#505050"><polygon points="851.0,749.0 861.8,768.5 840.2,768.5"/></g><text x="890" y="770.8" font-family="Liberation Serif" font-weight="bold" font-size="28.5">5 µg/L</text>
</svg>
</body></html>
